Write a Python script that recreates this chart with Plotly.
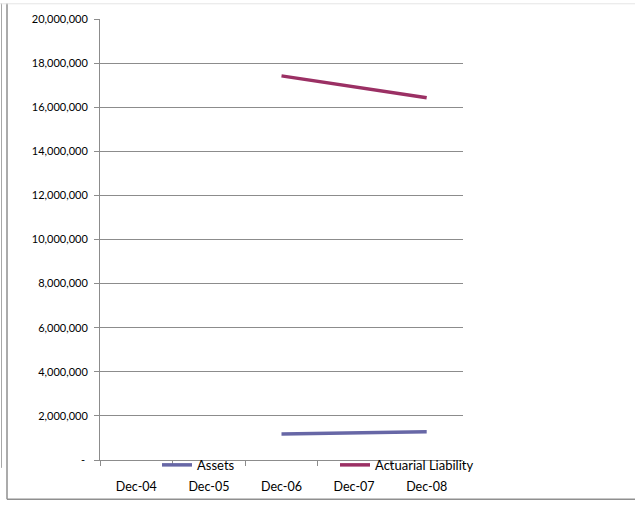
import plotly.graph_objects as go

categories = ["Dec-04", "Dec-05", "Dec-06", "Dec-07", "Dec-08"]
assets = [None, None, 1180000, 1230000, 1280000]
actuarial_liability = [None, None, 17420000, 16930000, 16430000]
y_tick_values = [0, 2000000, 4000000, 6000000, 8000000, 10000000,
                 12000000, 14000000, 16000000, 18000000, 20000000]
y_tick_labels = ["-\u00a0", "2,000,000", "4,000,000", "6,000,000", "8,000,000",
                 "10,000,000", "12,000,000", "14,000,000", "16,000,000",
                 "18,000,000", "20,000,000"]

W, H = 635, 506
L, R, T, B = 100, 463, 16, 465
pw, ph = R - L, B - T

def px(x):
    return (x - L) / pw

def py(y):
    return (B - y) / ph

FAM = "Lato, 'Open Sans', sans-serif"

fig = go.Figure()
fig.add_trace(go.Scatter(x=categories, y=assets, mode="lines", name="Assets",
                         line=dict(color="#6767A6", width=3.5)))
fig.add_trace(go.Scatter(x=categories, y=actuarial_liability, mode="lines",
                         name="Actuarial Liability",
                         line=dict(color="#9B3064", width=3.5)))

fig.update_layout(
    width=W, height=H,
    margin=dict(l=L, r=W - R, t=T, b=H - B, pad=0),
    paper_bgcolor="white", plot_bgcolor="white",
    font=dict(family=FAM, size=12, color="#000000"),
    showlegend=True,
    legend=dict(orientation="h", x=px(157), y=py(470), xanchor="left", yanchor="middle",
                bgcolor="rgba(0,0,0,0)",
                font=dict(family=FAM, size=13, color="#000000"),
                entrywidth=133, entrywidthmode="pixels", itemwidth=30,
                tracegroupgap=0),
    xaxis=dict(type="category", categoryorder="array", categoryarray=categories,
               range=[-0.5, 4.5], showgrid=False, showline=True,
               linecolor="#8c8c8c", linewidth=1, ticks="outside",
               tickson="boundaries", ticklen=5, tickcolor="#8c8c8c",
               tickfont=dict(family=FAM, size=12.5, color="#000000"),
               ticklabelstandoff=15, zeroline=False, fixedrange=True),
    yaxis=dict(range=[0, 20000000], tickvals=y_tick_values, ticktext=y_tick_labels,
               showgrid=True, gridcolor="#8c8c8c", gridwidth=1, showline=True,
               linecolor="#8c8c8c", linewidth=1, ticks="outside", ticklen=5,
               tickcolor="#8c8c8c",
               tickfont=dict(family=FAM, size=11, color="#000000"),
               ticklabelstandoff=4, zeroline=False, fixedrange=True),
    shapes=[
        dict(type="line", xref="paper", yref="paper", x0=px(7), x1=px(7),
             y0=py(0), y1=py(505), line=dict(color="#8f8f8f", width=1.5)),
        dict(type="line", xref="paper", yref="paper", x0=px(1.5), x1=px(1.5),
             y0=py(0), y1=py(473), line=dict(color="#a8a8a8", width=1)),
        dict(type="line", xref="paper", yref="paper", x0=px(7), x1=px(635),
             y0=py(505), y1=py(505), line=dict(color="#8f8f8f", width=1.5)),
        dict(type="line", xref="paper", yref="paper", x0=px(0), x1=px(635),
             y0=py(0.5), y1=py(0.5), line=dict(color="#e6e6e6", width=1)),
    ],
)

fig.write_html("out.html", config=dict(displayModeBar=False),
               post_script="document.body.style.margin='0';document.body.style.overflow='hidden';")
